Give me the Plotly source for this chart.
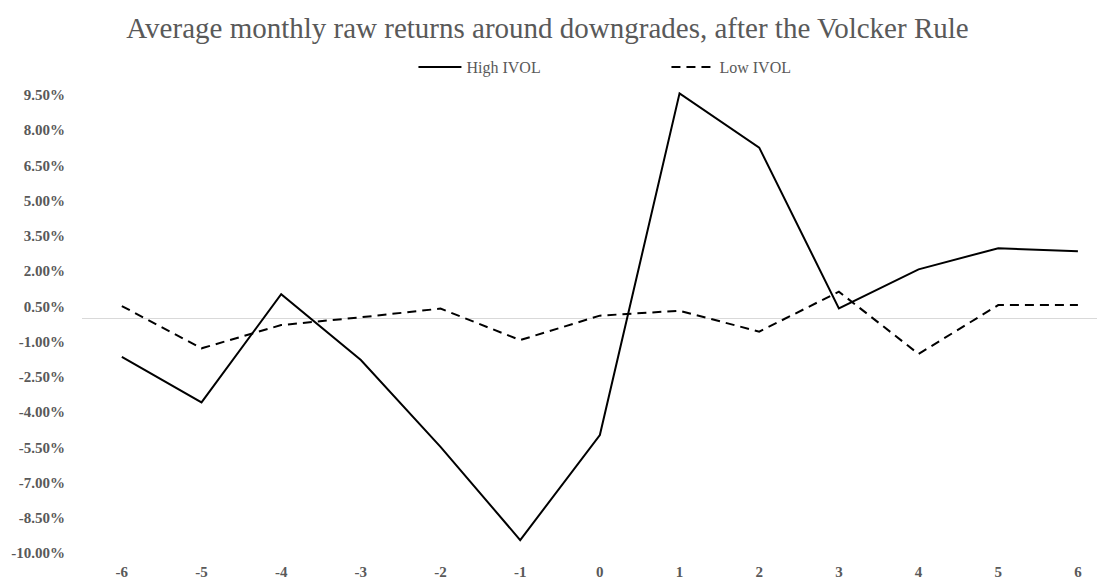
import plotly.graph_objects as go

months = [-6, -5, -4, -3, -2, -1, 0, 1, 2, 3, 4, 5, 6]
high_ivol = [-1.65, -3.59, 1.01, -1.79, -5.48, -9.45, -4.98, 9.56, 7.25, 0.41, 2.07, 2.97, 2.84]
low_ivol = [0.51, -1.29, -0.30, 0.03, 0.40, -0.94, 0.10, 0.31, -0.58, 1.12, -1.53, 0.55, 0.55]

y_tickvals = [-10.0, -8.5, -7.0, -5.5, -4.0, -2.5, -1.0, 0.5, 2.0, 3.5, 5.0, 6.5, 8.0, 9.5]
y_ticktext = ["-10.00%", "-8.50%", "-7.00%", "-5.50%", "-4.00%", "-2.50%", "-1.00%",
              "0.50%", "2.00%", "3.50%", "5.00%", "6.50%", "8.00%", "9.50%"]
x_ticktext = [str(m) for m in months]

FONT = "Liberation Serif"
GRAY = "#595959"
W, H = 1097, 573  # page body adds an 8px offset

fig = go.Figure()
fig.add_trace(go.Scatter(x=months, y=high_ivol, mode="lines", name="High IVOL",
                         line=dict(color="black", width=2)))
fig.add_trace(go.Scatter(x=months, y=low_ivol, mode="lines", name="Low IVOL",
                         line=dict(color="black", width=2, dash="9px,6px")))

fig.update_layout(
    width=W, height=H,
    margin=dict(l=74, r=0, t=78, b=20),
    paper_bgcolor="white", plot_bgcolor="white",
    title=dict(text="Average monthly raw returns around downgrades, after the Volcker Rule",
               font=dict(family=FONT, size=29, color=GRAY),
               x=539.5 / W, xref="container", xanchor="center",
               y=1 - 20 / H, yref="container", yanchor="middle"),
    legend=dict(orientation="h", x=0.324, xanchor="left", y=1.04, yanchor="middle",
                font=dict(family=FONT, size=16, color=GRAY),
                itemwidth=43,
                entrywidth=195, entrywidthmode="pixels", bgcolor="rgba(0,0,0,0)"),
    showlegend=True,
)
fig.update_xaxes(range=[-6.5, 6.34], tickvals=months, ticktext=x_ticktext,
                 showgrid=False, zeroline=False, showline=False, ticks="",
                 tickfont=dict(family=FONT, size=15, color=GRAY, weight="bold"))
fig.update_yaxes(range=[-10.34, 9.872], tickvals=y_tickvals, ticktext=y_ticktext,
                 showgrid=False, zeroline=True, zerolinecolor="#d9d9d9", zerolinewidth=1,
                 showline=False, ticks="", ticklabelstandoff=16,
                 tickfont=dict(family=FONT, size=15, color=GRAY, weight="bold"))

fig.write_html("out.html")
